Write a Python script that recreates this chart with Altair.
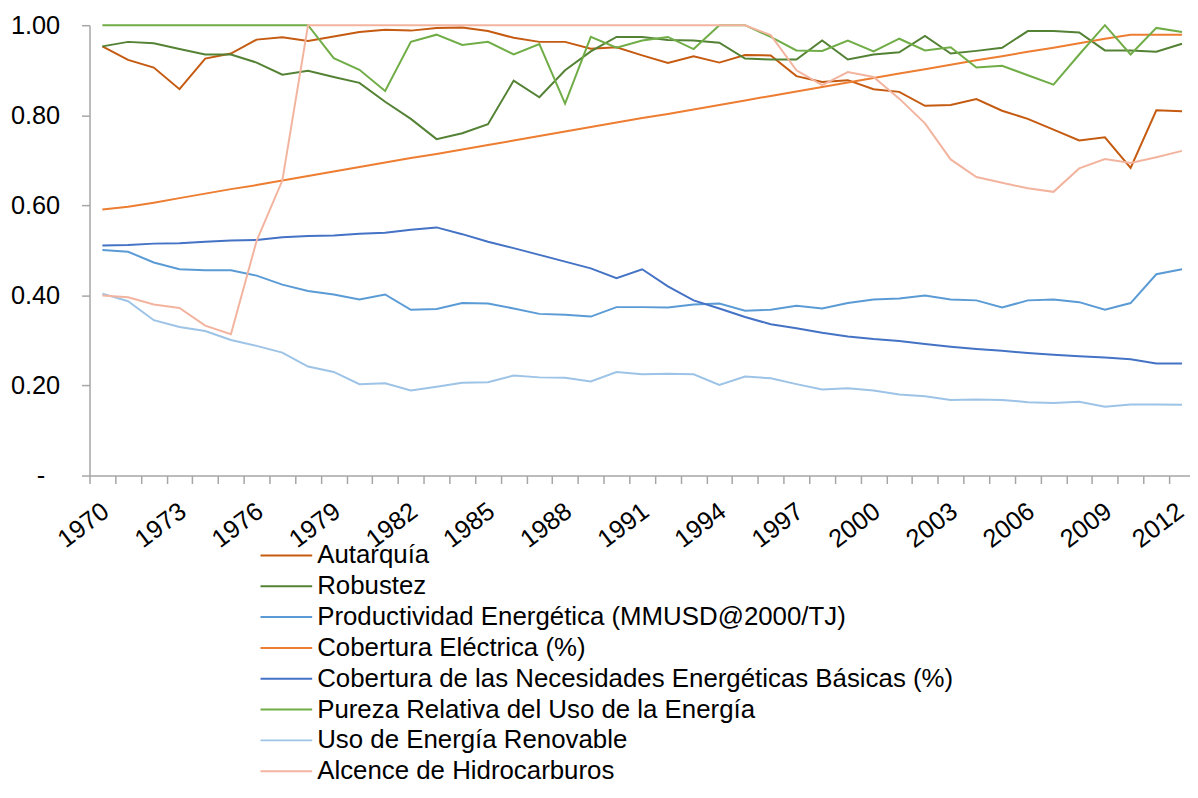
import altair as alt
import pandas as pd

years = list(range(1970, 2013))

series_names = [
    "Autarquía",
    "Robustez",
    "Productividad Energética (MMUSD@2000/TJ)",
    "Cobertura Eléctrica (%)",
    "Cobertura de las Necesidades Energéticas Básicas (%)",
    "Pureza Relativa del Uso de la Energía",
    "Uso de Energía Renovable",
    "Alcence de Hidrocarburos",
]
series_colors = ["#C55A11", "#548235", "#5B9BD5", "#ED7D31",
                 "#4472C4", "#70AD47", "#9DC3E6", "#F3B49F"]

autarquia = [0.953, 0.923, 0.906, 0.858, 0.926, 0.937, 0.968, 0.973, 0.965, 0.975,
             0.985, 0.990, 0.988, 0.994, 0.995, 0.987, 0.972, 0.963, 0.963, 0.948,
             0.951, 0.933, 0.916, 0.931, 0.917, 0.934, 0.933, 0.887, 0.874, 0.878,
             0.858, 0.852, 0.821, 0.823, 0.836, 0.810, 0.792, 0.768, 0.744, 0.751,
             0.683, 0.811, 0.809]
robustez = [0.953, 0.963, 0.960, 0.947, 0.935, 0.935, 0.917, 0.890, 0.899, 0.885,
            0.872, 0.830, 0.792, 0.747, 0.760, 0.780, 0.877, 0.840, 0.900, 0.942,
            0.974, 0.974, 0.967, 0.966, 0.961, 0.926, 0.924, 0.924, 0.966, 0.924,
            0.935, 0.940, 0.976, 0.937, 0.943, 0.950, 0.987, 0.987, 0.984, 0.944,
            0.944, 0.941, 0.959]
productividad = [0.501, 0.497, 0.473, 0.458, 0.456, 0.456, 0.444, 0.424, 0.410, 0.402,
                 0.391, 0.402, 0.368, 0.370, 0.383, 0.382, 0.371, 0.359, 0.357, 0.353,
                 0.374, 0.374, 0.373, 0.380, 0.382, 0.366, 0.368, 0.377, 0.371, 0.383,
                 0.391, 0.393, 0.400, 0.391, 0.389, 0.373, 0.389, 0.391, 0.385, 0.368,
                 0.383, 0.447, 0.458]
cobertura_electrica = [0.591, 0.597, 0.606, 0.616, 0.626, 0.636, 0.645, 0.655, 0.665, 0.675,
                       0.685, 0.695, 0.705, 0.714, 0.724, 0.734, 0.744, 0.754, 0.764, 0.774,
                       0.784, 0.794, 0.803, 0.813, 0.823, 0.833, 0.843, 0.853, 0.863, 0.873,
                       0.883, 0.893, 0.902, 0.912, 0.922, 0.931, 0.941, 0.950, 0.960, 0.970,
                       0.979, 0.979, 0.979]
cobertura_necesidades = [0.511, 0.512, 0.515, 0.516, 0.519, 0.522, 0.523, 0.529, 0.532, 0.533,
                         0.537, 0.539, 0.546, 0.551, 0.536, 0.519, 0.505, 0.490, 0.475, 0.460,
                         0.438, 0.458, 0.420, 0.389, 0.371, 0.352, 0.336, 0.327, 0.317, 0.309,
                         0.303, 0.299, 0.292, 0.286, 0.281, 0.277, 0.272, 0.268, 0.265, 0.262,
                         0.258, 0.249, 0.249]
pureza = [1.0, 1.0, 1.0, 1.0, 1.0, 1.0, 1.0, 1.0, 1.0, 0.927,
          0.901, 0.854, 0.963, 0.979, 0.956, 0.963, 0.935, 0.958, 0.826, 0.974,
          0.950, 0.966, 0.974, 0.947, 1.0, 1.0, 0.974, 0.944, 0.943, 0.966,
          0.942, 0.970, 0.944, 0.951, 0.906, 0.910, 0.889, 0.868, 0.935, 1.0,
          0.935, 0.994, 0.985]
renovable = [0.404, 0.387, 0.345, 0.330, 0.321, 0.301, 0.288, 0.273, 0.242, 0.230,
             0.203, 0.205, 0.189, 0.197, 0.206, 0.207, 0.222, 0.218, 0.217, 0.209,
             0.230, 0.225, 0.226, 0.225, 0.201, 0.220, 0.216, 0.203, 0.191, 0.194,
             0.189, 0.180, 0.176, 0.168, 0.169, 0.168, 0.163, 0.161, 0.164, 0.153,
             0.158, 0.158, 0.157]
alcence = [0.400, 0.396, 0.380, 0.372, 0.333, 0.314, 0.521, 0.655, 1.0, 1.0,
           1.0, 1.0, 1.0, 1.0, 1.0, 1.0, 1.0, 1.0, 1.0, 1.0,
           1.0, 1.0, 1.0, 1.0, 1.0, 1.0, 0.978, 0.900, 0.867, 0.896,
           0.885, 0.837, 0.782, 0.702, 0.663, 0.650, 0.638, 0.630, 0.682, 0.703,
           0.694, 0.707, 0.721]

all_values = [autarquia, robustez, productividad, cobertura_electrica,
              cobertura_necesidades, pureza, renovable, alcence]

rows = []
for k, (name, vals) in enumerate(zip(series_names, all_values)):
    for y, v in zip(years, vals):
        rows.append({"year": y, "value": v, "serie": name, "order": k})
df = pd.DataFrame(rows)

y_ticks = [0, 0.2, 0.4, 0.6, 0.8, 1.0]
x_tick_values = [y - 0.5 for y in years] + years
last_year = years[-1]

FONT = "Liberation Sans"
AX = "#A6A6A6"

chart = alt.Chart(df).mark_line(strokeWidth=2).encode(
    x=alt.X("year:Q",
            scale=alt.Scale(domain=[1969.5, 2012.31], nice=False, zero=False),
            axis=alt.Axis(
                title=None, values=x_tick_values, grid=False,
                labelExpr="(datum.value % 1 == 0 && (datum.value - 1970) % 3 == 0) ? format(datum.value, 'd') : ''",
                tickOpacity={"condition": {"test": "datum.value % 1 != 0", "value": 1}, "value": 0},
                labelAngle=-37, labelAlign="right", labelBaseline="top",
                labelPadding=15,
                labelOffset={"condition": {"test": f"datum.value == {last_year}", "value": -9}, "value": -4},
                tickSize=8, labelOverlap=False,
                labelBound=False, labelFlush=False, labelFontSize=25.5)),
    y=alt.Y("value:Q",
            scale=alt.Scale(domain=[0, 1], nice=False),
            axis=alt.Axis(
                title=None, values=y_ticks, grid=False,
                labelExpr="datum.value == 0 ? '-' : format(datum.value, '.2f')",
                labelPadding={"condition": {"test": "datum.value == 0", "value": 37}, "value": 22},
                tickSize=8, labelFontSize=25.5)),
    color=alt.Color("serie:N",
                    scale=alt.Scale(domain=series_names, range=series_colors),
                    sort=series_names,
                    legend=alt.Legend(
                        title=None, orient="none", legendX=171, legendY=518,
                        direction="vertical", symbolType="stroke", symbolSize=2704,
                        symbolStrokeWidth=2, labelFont=FONT, labelFontSize=26,
                        labelColor="black", labelOffset=4, rowPadding=0,
                        clipHeight=30.8, padding=0, labelLimit=0)),
    order=alt.Order("order:Q"),
).properties(
    width=1107, height=453,
    autosize=alt.AutoSizeParams(type="none"),
    padding={"left": 82, "top": 15, "right": 0, "bottom": 314},
    background="white",
).configure_view(stroke=None).configure_axis(
    domainColor=AX, tickColor=AX, domainWidth=1.5, tickWidth=1.5,
    labelFont=FONT, labelColor="black",
)

chart.save("out.html", embed_options={"renderer": "svg", "actions": False})
